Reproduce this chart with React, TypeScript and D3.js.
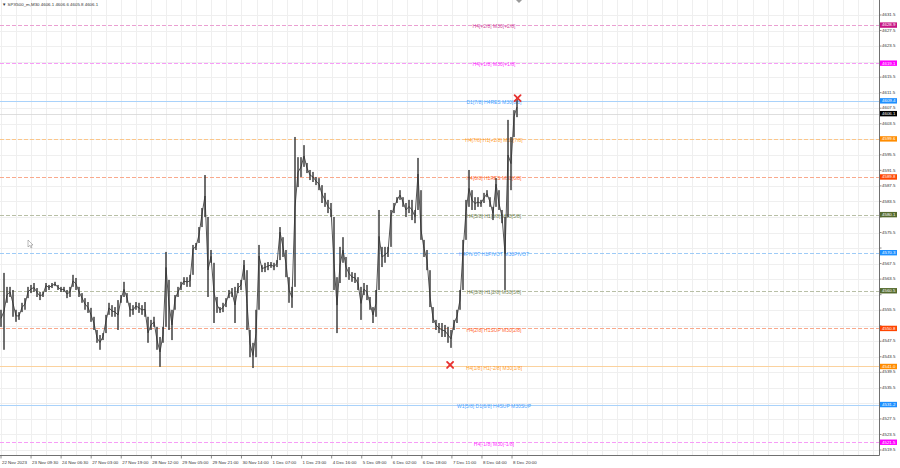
import React from 'react';
import * as d3 from 'd3';

const W = 900;
const H = 468;

const headerText = '▼ SPX500_m,M30  4606.1 4606.6 4605.8 4606.1';

// sampled bar ranges (price) from left to right
const highs = [
  4555.6, 4565.1, 4561.5, 4561.5, 4560.7, 4555.6, 4555.0, 4557.4, 4558.6, 4561.5,
  4562.0, 4562.5, 4561.2, 4560.2, 4560.2, 4562.5, 4562.0, 4562.5, 4562.8, 4562.0,
  4561.5, 4561.5, 4560.7, 4561.5, 4564.6, 4563.8, 4561.5, 4559.9, 4558.6, 4557.6,
  4556.1, 4553.8, 4549.6, 4549.1, 4549.6, 4554.3, 4557.4, 4556.8, 4556.3, 4558.1,
  4559.4, 4562.8, 4559.9, 4557.4, 4556.8, 4557.6, 4557.4, 4556.8, 4557.6, 4552.2,
  4553.0, 4553.8, 4550.4, 4548.6, 4551.2, 4570.5, 4563.3, 4555.6, 4559.4, 4561.5,
  4562.8, 4564.0, 4564.0, 4564.6, 4572.3, 4572.8, 4576.9, 4581.8, 4590.3, 4572.8,
  4571.0, 4567.7, 4558.9, 4556.3, 4557.4, 4558.6, 4560.7, 4561.2, 4561.5, 4562.5,
  4563.3, 4568.4, 4564.0, 4550.4, 4547.1, 4555.6, 4572.3, 4567.1, 4567.7, 4567.9,
  4567.9, 4567.7, 4568.4, 4576.9, 4574.3, 4571.0, 4564.0, 4561.5, 4600.1, 4594.9,
  4594.9, 4598.0, 4593.4, 4591.6, 4591.1, 4589.8, 4589.5, 4587.7, 4585.7, 4583.9,
  4583.1, 4574.3, 4564.0, 4571.8, 4574.3, 4569.2, 4566.6, 4565.3, 4565.1, 4564.0,
  4561.5, 4562.5, 4562.0, 4558.9, 4556.3, 4560.7, 4581.3, 4571.8, 4571.8, 4571.8,
  4581.3, 4583.1, 4584.6, 4586.4, 4584.6, 4583.1, 4583.9, 4583.9, 4581.3, 4594.7,
  4578.7, 4573.6, 4571.0, 4561.5, 4554.8, 4553.0, 4552.2, 4552.2, 4551.7, 4551.2,
  4550.4, 4553.0, 4555.6, 4560.7, 4573.6, 4583.9, 4591.6, 4586.4, 4584.6, 4584.6,
  4583.9, 4585.7, 4586.4, 4584.6, 4582.1, 4589.5, 4584.6, 4581.3, 4579.5, 4604.5,
  4600.1, 4607.0, 4610.4,
];
const lows = [
  4551.2, 4545.3, 4557.4, 4558.9, 4553.8, 4552.5, 4553.0, 4555.0, 4555.6, 4558.9,
  4559.9, 4560.2, 4558.9, 4558.1, 4558.9, 4561.2, 4560.7, 4561.2, 4561.7, 4560.7,
  4560.2, 4560.2, 4558.6, 4558.9, 4561.5, 4560.7, 4558.9, 4557.4, 4555.6, 4554.8,
  4552.5, 4550.4, 4547.1, 4545.3, 4547.8, 4551.2, 4554.8, 4553.8, 4553.8, 4550.4,
  4557.4, 4558.9, 4557.4, 4553.8, 4554.3, 4555.6, 4554.8, 4554.3, 4553.8, 4547.1,
  4550.4, 4551.2, 4545.3, 4540.9, 4547.1, 4562.5, 4550.4, 4547.8, 4557.4, 4558.9,
  4560.7, 4562.0, 4561.5, 4561.5, 4570.2, 4571.0, 4572.8, 4578.7, 4579.5, 4558.9,
  4567.7, 4552.2, 4554.8, 4554.8, 4555.0, 4556.3, 4558.9, 4558.9, 4552.2, 4559.9,
  4560.7, 4565.8, 4550.4, 4543.4, 4540.6, 4543.4, 4566.6, 4565.3, 4565.3, 4565.8,
  4566.4, 4565.8, 4566.6, 4574.3, 4569.2, 4564.0, 4557.4, 4556.1, 4564.0, 4587.2,
  4589.8, 4592.4, 4590.8, 4589.0, 4588.5, 4587.7, 4586.4, 4583.1, 4582.1, 4580.5,
  4579.5, 4560.7, 4549.6, 4562.5, 4567.7, 4564.0, 4563.3, 4562.8, 4562.5, 4560.7,
  4553.0, 4559.4, 4558.1, 4555.6, 4552.2, 4553.8, 4567.7, 4566.6, 4567.7, 4569.2,
  4578.7, 4580.5, 4583.1, 4583.9, 4582.1, 4579.5, 4580.5, 4578.7, 4577.9, 4586.4,
  4573.6, 4569.2, 4565.8, 4556.3, 4552.2, 4550.4, 4549.6, 4548.6, 4548.6, 4547.1,
  4545.8, 4551.2, 4552.2, 4555.6, 4567.7, 4577.9, 4582.1, 4581.3, 4581.3, 4582.1,
  4582.1, 4583.1, 4584.6, 4582.1, 4578.7, 4586.4, 4581.3, 4577.9, 4560.7, 4586.4,
  4586.4, 4603.7, 4605.2,
];

const priceTicks = [
  4631.5, 4627.5, 4623.5, 4619.5, 4615.5, 4611.5, 4607.5, 4603.5, 4599.5, 4595.5,
  4591.5, 4587.5, 4583.5, 4579.5, 4575.5, 4571.5, 4567.5, 4563.5, 4559.5, 4555.5,
  4551.5, 4547.5, 4543.5, 4539.5, 4535.5, 4531.5, 4527.5, 4523.5, 4519.5,
];

const timeLabels = [
  '22 Nov 2023', '23 Nov 09:30', '24 Nov 06:30', '27 Nov 03:00', '27 Nov 19:00',
  '28 Nov 12:00', '29 Nov 05:00', '29 Nov 21:00', '30 Nov 14:00', '1 Dec 07:00',
  '1 Dec 23:00', '4 Dec 16:00', '5 Dec 09:00', '6 Dec 02:00', '6 Dec 18:00',
  '7 Dec 11:00', '8 Dec 04:00', '8 Dec 20:00',
];
const samplesPerLabel = 10.02;

const levelPrices = [4628.9, 4619.1, 4609.4, 4599.6, 4589.8, 4580.1, 4570.3, 4560.5, 4550.8, 4541.0, 4531.2, 4521.5];
const levelNames = [
  'H4[+2/8] M30[+2/8]',
  'H4[+1/8] M30[+1/8]',
  'D1[7/8] H4RES M30[8/8]',
  'H4[7/8] H1[+2/8] M30[7/8]',
  'H4[6/8] H1RES M30[6/8]',
  'H4[5/8] H1[6/8] M30[5/8]',
  'H4PIVOT H1PIVOT M30PIVOT',
  'H4[3/8] H1[2/8] M30[3/8]',
  'H4[2/8] H1SUP M30[2/8]',
  'H4[1/8] H1[-2/8] M30[1/8]',
  'W1[5/8] D1[6/8] H4SUP M30SUP',
  'H4[-1/8] M30[-1/8]',
];
const levelColors = ['#c71585', '#ff00ff', '#1e90ff', '#ff8c00', '#ff4500', '#556b2f', '#1e90ff', '#556b2f', '#ff4500', '#ff8c00', '#1e90ff', '#ff00ff'];
const lineColors = ['#eaa0d2', '#f79cf7', '#a9d2fa', '#fbc68a', '#f9a98c', '#b8bfa6', '#9ecbf7', '#b8bfa6', '#f9a98c', '#fbd29e', '#a9d2fa', '#f79cf7'];
const levelDashed = [true, true, false, true, true, true, true, true, true, false, false, true];

const currentPrice = 4606.1;
const signalIndex = [149.7, 172.2];
const signalPrice = [4541.4, 4610.1];

const FONT = '"Liberation Sans", Arial, sans-serif';

export default function App() {
  const plotRight = 879.5;
  const plotBottom = 455.5;
  const y = d3.scaleLinear().domain([4519.5, 4631.5]).range([450, 15]);
  const x = d3.scaleLinear().domain([0, highs.length - 1]).range([1, 517]);

  const gridX: number[] = [];
  for (let k = 0; ; k++) {
    const gx = x(k * samplesPerLabel / 2);
    if (gx > plotRight - 2) break;
    gridX.push(Math.round(gx) + 0.5);
  }

  const bars = highs.map((h, i) => {
    let top = y(h);
    let bot = y(lows[i]);
    if (i > 0) {
      const ph = y(highs[i - 1]);
      const pl = y(lows[i - 1]);
      if (top > pl) top = pl;
      if (bot < ph) bot = ph;
    }
    return { x: x(i), top, bot };
  });

  const midLine = d3
    .line<number>()
    .x((_, i) => x(i))
    .y((h, i) => y((h + lows[i]) / 2));

  const boxH = 5.4;
  const visibleTicks = priceTicks.filter(
    (p) => ![...levelPrices, currentPrice].some((lp) => Math.abs(y(lp) - y(p)) < 5.2)
  );

  const xMark = (cx: number, cy: number, key: string) => (
    <g key={key} stroke="#e8312f" strokeWidth={1.8} strokeLinecap="round">
      <line x1={cx - 3} y1={cy - 3} x2={cx + 3} y2={cy + 3} />
      <line x1={cx - 3} y1={cy + 3} x2={cx + 3} y2={cy - 3} />
    </g>
  );

  return (
    <div style={{ position: 'absolute', left: 0, top: 0, width: W, height: H, background: '#fff' }}>
      <svg width={W} height={H} style={{ display: 'block' }} fontFamily={FONT}>
        <rect x={0} y={0} width={W} height={H} fill="#ffffff" />
        {/* grid */}
        <g stroke="#efefef" strokeWidth={1}>
          {gridX.map((gx, i) => (
            <line key={'gx' + i} x1={gx} x2={gx} y1={0} y2={plotBottom} />
          ))}
          {priceTicks.map((p, i) => (
            <line key={'gy' + i} x1={0} x2={plotRight} y1={Math.round(y(p)) + 0.5} y2={Math.round(y(p)) + 0.5} />
          ))}
        </g>

        {/* level lines */}
        {levelPrices.map((p, i) => (
          <line
            key={'lv' + i}
            x1={0}
            x2={plotRight}
            y1={Math.round(y(p)) + 0.5}
            y2={Math.round(y(p)) + 0.5}
            stroke={lineColors[i]}
            strokeWidth={1}
            strokeDasharray={levelDashed[i] ? '4 2' : undefined}
          />
        ))}
        <line x1={0} x2={plotRight} y1={Math.round(y(currentPrice)) + 0.5} y2={Math.round(y(currentPrice)) + 0.5} stroke="#d6d6d6" strokeWidth={0.8} />

        {/* level text */}
        {levelPrices.map((p, i) => (
          <text
            key={'lt' + i}
            x={494}
            y={y(p) + 2}
            fontSize={5}
            textAnchor="middle"
            dominantBaseline="middle"
            fill={levelColors[i]}
            fillOpacity={0.85}
          >
            {levelNames[i]}
          </text>
        ))}

        {/* candles */}
        <path d={midLine(highs) || ''} fill="none" stroke="#555" strokeWidth={1} />
        <g fill="#333">
          {bars.map((b, i) => (
            <rect key={'b' + i} x={b.x - 0.7} y={b.top} width={1.4} height={Math.max(1, b.bot - b.top)} />
          ))}
        </g>

        {signalIndex.map((si, i) => xMark(x(si), y(signalPrice[i]), 'sx' + i))}

        {/* chart shift marker and mouse cursor */}
        <path d="M516,0 L522,0 L519,3 Z" fill="#9a9a9a" />
        <path d="M28,240 L28,247 L29.8,245.4 L31,248 L32,247.5 L30.9,245 L33,245 Z" fill="#fff" stroke="#777" strokeWidth={0.5} />

        {/* axes frame */}
        <line x1={plotRight} x2={plotRight} y1={0} y2={plotBottom} stroke="#707070" strokeWidth={1} />
        <line x1={0} x2={plotRight} y1={plotBottom} y2={plotBottom} stroke="#707070" strokeWidth={1} />

        {/* price axis labels */}
        {priceTicks.map((p, i) => (
          <line key={'ptk' + i} x1={plotRight} x2={plotRight + 2} y1={y(p)} y2={y(p)} stroke="#707070" strokeWidth={0.8} />
        ))}
        {visibleTicks.map((p, i) => (
          <text key={'pt' + i} x={882} y={y(p)} fontSize={4.4} dominantBaseline="middle" fill="#333">
            {p.toFixed(1)}
          </text>
        ))}

        {/* level price boxes */}
        {levelPrices.map((p, i) => (
          <g key={'lb' + i}>
            <rect x={plotRight + 0.5} y={y(p) - boxH / 2} width={17} height={boxH} fill={levelColors[i]} />
            <text x={882} y={y(p) + 0.2} fontSize={4.4} dominantBaseline="middle" fill="#fff">
              {p.toFixed(1)}
            </text>
          </g>
        ))}
        <rect x={plotRight + 0.5} y={y(currentPrice) - boxH / 2} width={17} height={boxH} fill="#000" />
        <text x={882} y={y(currentPrice) + 0.2} fontSize={4.4} dominantBaseline="middle" fill="#fff">
          {currentPrice.toFixed(1)}
        </text>

        {/* time axis */}
        {timeLabels.map((t, k) => {
          const tx = x(k * samplesPerLabel);
          return (
            <g key={'tl' + k}>
              <line x1={tx} x2={tx} y1={plotBottom} y2={plotBottom + 3} stroke="#707070" strokeWidth={0.8} />
              <text x={tx + 1} y={463} fontSize={4.4} dominantBaseline="middle" fill="#333">
                {t}
              </text>
            </g>
          );
        })}

        {/* header */}
        <text x={2} y={5} fontSize={4.4} dominantBaseline="middle" fill="#333">
          {headerText}
        </text>
      </svg>
    </div>
  );
}
